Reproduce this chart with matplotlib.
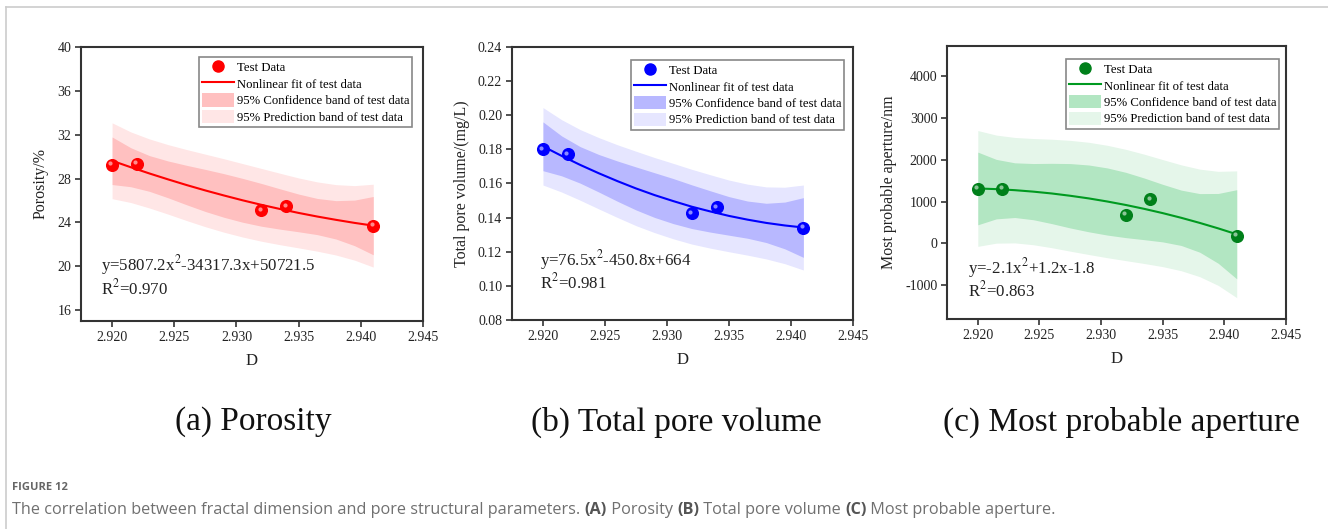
import matplotlib
matplotlib.use("Agg")
import matplotlib.pyplot as plt
import matplotlib.transforms as mtransforms
from matplotlib.lines import Line2D
from matplotlib.patches import Patch
import numpy as np

plt.rcParams['font.family'] = ['Liberation Serif', 'DejaVu Serif']
plt.rcParams['mathtext.fontset'] = 'stix'

# test data
D = [2.920, 2.922, 2.932, 2.934, 2.941]
porosity = [29.25, 29.35, 25.1, 25.45, 23.7]
pore_volume = [0.180, 0.177, 0.1425, 0.146, 0.134]
aperture = [1310, 1310, 675, 1050, 180]

# fitted curve and band half widths
D_fit = [2.9200, 2.9215, 2.9230, 2.9245, 2.9260, 2.9275, 2.9290, 2.9305,
         2.9320, 2.9335, 2.9350, 2.9365, 2.9380, 2.9395, 2.9410]
fit_a = [29.62, 29.03, 28.46, 27.92, 27.40, 26.91, 26.45, 26.01, 25.60, 25.22, 24.86, 24.53, 24.23, 23.95, 23.70]
conf_a = [2.17, 1.78, 1.63, 1.68, 1.80, 1.92, 1.99, 2.00, 1.95, 1.84, 1.72, 1.65, 1.75, 2.08, 2.66]
pred_a = [3.46, 3.22, 3.15, 3.17, 3.24, 3.31, 3.35, 3.35, 3.32, 3.26, 3.19, 3.16, 3.21, 3.40, 3.78]

fit_b = [0.1818, 0.1762, 0.1709, 0.1660, 0.1614, 0.1571, 0.1532, 0.1497, 0.1464, 0.1436, 0.1410, 0.1388, 0.1369, 0.1354, 0.1342]
conf_b = [0.0143, 0.0117, 0.0107, 0.0110, 0.0118, 0.0126, 0.0131, 0.0132, 0.0128, 0.0121, 0.0113, 0.0109, 0.0115, 0.0137, 0.0175]
pred_b = [0.0227, 0.0212, 0.0207, 0.0209, 0.0213, 0.0218, 0.0220, 0.0221, 0.0219, 0.0215, 0.0210, 0.0208, 0.0211, 0.0224, 0.0249]

fit_c = [1312, 1296, 1271, 1236, 1192, 1137, 1074, 1000, 917, 824, 722, 610, 488, 357, 216]
conf_c = [869, 711, 654, 672, 721, 770, 799, 803, 781, 737, 688, 662, 701, 835, 1066]
pred_c = [1385, 1292, 1261, 1270, 1297, 1325, 1342, 1344, 1331, 1307, 1280, 1266, 1286, 1364, 1516]

x_ticks = [2.920, 2.925, 2.930, 2.935, 2.940, 2.945]

panels = [
    dict(y=porosity, fit=fit_a, conf=conf_a, pred=pred_a, ylabel='Porosity/%',
         ylim=(15, 40), yticks=[16, 20, 24, 28, 32, 36, 40], yfmt='{:.0f}',
         eq='y=5807.2x$^2$-34317.3x+50721.5', r2='R$^2$=0.970',
         pos=[0.0610, 0.3932, 0.2575, 0.5180], eqpos=(0.058, 0.204, 0.120),
         leg=(0.345, 0.962), c_pt='#ff0000', c_line='#ff0000',
         c_conf='#ffc0c0', c_pred='#ffe6e6', title='(a) Porosity', tx=253),
    dict(y=pore_volume, fit=fit_b, conf=conf_b, pred=pred_b, ylabel='Total pore volume/(mg/L)',
         ylim=(0.08, 0.24), yticks=[0.08, 0.10, 0.12, 0.14, 0.16, 0.18, 0.20, 0.22, 0.24], yfmt='{:.2f}',
         eq='y=76.5x$^2$-450.8x+664', r2='R$^2$=0.981',
         pos=[0.3855, 0.3951, 0.2568, 0.5161], eqpos=(0.082, 0.22, 0.136),
         leg=(0.349, 0.952), c_pt='#0000ff', c_line='#0000ff',
         c_conf='#b8b8ff', c_pred='#e6e6ff', title='(b) Total pore volume', tx=676),
    dict(y=aperture, fit=fit_c, conf=conf_c, pred=pred_c, ylabel='Most probable aperture/nm',
         ylim=(-1810, 4720), yticks=[-1000, 0, 1000, 2000, 3000, 4000], yfmt='{:.0f}',
         eq='y=-2.1x$^2$+1.2x-1.8', r2='R$^2$=0.863',
         pos=[0.7131, 0.3970, 0.2553, 0.5161], eqpos=(0.062, 0.187, 0.103),
         leg=(0.351, 0.952), c_pt='#00801a', c_line='#009a20',
         c_conf='#b2e6c2', c_pred='#e5f6ea', title='(c) Most probable aperture', tx=1121),
]

fig = plt.figure(figsize=(13.28, 5.29), dpi=100)

for p in panels:
    ax = fig.add_axes(p['pos'])
    fit = np.array(p['fit'])
    conf = np.array(p['conf'])
    pred = np.array(p['pred'])
    ax.fill_between(D_fit, fit - pred, fit + pred, color=p['c_pred'], lw=0, zorder=1)
    ax.fill_between(D_fit, fit - conf, fit + conf, color=p['c_conf'], lw=0, zorder=2)
    ax.plot(D_fit, fit, color=p['c_line'], lw=1.5, zorder=3)
    ax.plot(D, p['y'], 'o', color=p['c_pt'], ms=8.4, mec=p['c_pt'], zorder=4)
    # little shine on the balls
    shine = mtransforms.offset_copy(ax.transData, fig=fig, x=-1.6, y=1.6, units='dots')
    ax.plot(D, p['y'], 'o', color='white', alpha=0.55, ms=3, mew=0, transform=shine, zorder=5)

    ax.set_xlim(2.9175, 2.945)
    ax.set_ylim(*p['ylim'])
    ax.set_xticks(x_ticks)
    ax.set_xticklabels(['{:.3f}'.format(v) for v in x_ticks])
    ax.set_yticks(p['yticks'])
    ax.set_yticklabels([p['yfmt'].format(v) for v in p['yticks']])
    ax.tick_params(direction='out', length=4, width=1.2, color='#333333',
                   labelsize=10, labelcolor='#222222', pad=3)
    for s in ax.spines.values():
        s.set_linewidth(1.5)
        s.set_color('#333333')
    ax.set_xlabel('D', fontsize=12, labelpad=7, color='#222222')
    ax.set_ylabel(p['ylabel'], fontsize=11.5, labelpad=6, color='#222222')

    ex, ey1, ey2 = p['eqpos']
    ax.text(ex, ey1, p['eq'], transform=ax.transAxes, fontsize=12.2, va='center', color='#222222')
    ax.text(ex, ey2, p['r2'], transform=ax.transAxes, fontsize=12.2, va='center', color='#222222')

    handles = [Line2D([], [], marker='o', ls='none', color=p['c_pt'], ms=8),
               Line2D([], [], color=p['c_line'], lw=1.5),
               Patch(facecolor=p['c_conf'], edgecolor='none'),
               Patch(facecolor=p['c_pred'], edgecolor='none')]
    labels = ['Test Data', 'Nonlinear fit of test data',
              '95% Confidence band of test data', '95% Prediction band of test data']
    leg = ax.legend(handles, labels, loc='upper left', bbox_to_anchor=p['leg'],
                    borderaxespad=0, fontsize=9.2, frameon=True, fancybox=False,
                    edgecolor='#888888', framealpha=1, borderpad=0.25,
                    handlelength=2.5, handleheight=1.2, handletextpad=0.2,
                    labelspacing=0.2)
    leg.get_frame().set_linewidth(1.2)

    fig.text(p['tx'] / 1328, 1 - 422 / 529, p['title'], fontsize=24,
             ha='center', va='center', color='#111111')

# page frame lines
fig.add_artist(Line2D([6 / 1328, 1], [1 - 7 / 529, 1 - 7 / 529], color='#cccccc', lw=1.2))
fig.add_artist(Line2D([6 / 1328, 6 / 1328], [0, 1 - 7 / 529], color='#cccccc', lw=1.2))

fig.text(12 / 1328, 1 - 488 / 529, 'FIGURE 12', fontsize=8, fontweight='bold',
         family='Open Sans', color='#666666', va='center')
cap_parts = [('The correlation between fractal dimension and pore structural parameters. ', 'normal'),
             ('(A)', 'bold'), (' Porosity ', 'normal'), ('(B)', 'bold'),
             (' Total pore volume ', 'normal'), ('(C)', 'bold'),
             (' Most probable aperture.', 'normal')]
fig.canvas.draw()
renderer = fig.canvas.get_renderer()
xpos = 12
for txt, w in cap_parts:
    t = fig.text(xpos / 1328, 1 - 510 / 529, txt, fontsize=11.7, fontweight=w,
                 family='Open Sans', color='#555555' if w == 'bold' else '#707070', va='center')
    xpos += t.get_window_extent(renderer).width

fig.savefig('out.png', dpi=100)
